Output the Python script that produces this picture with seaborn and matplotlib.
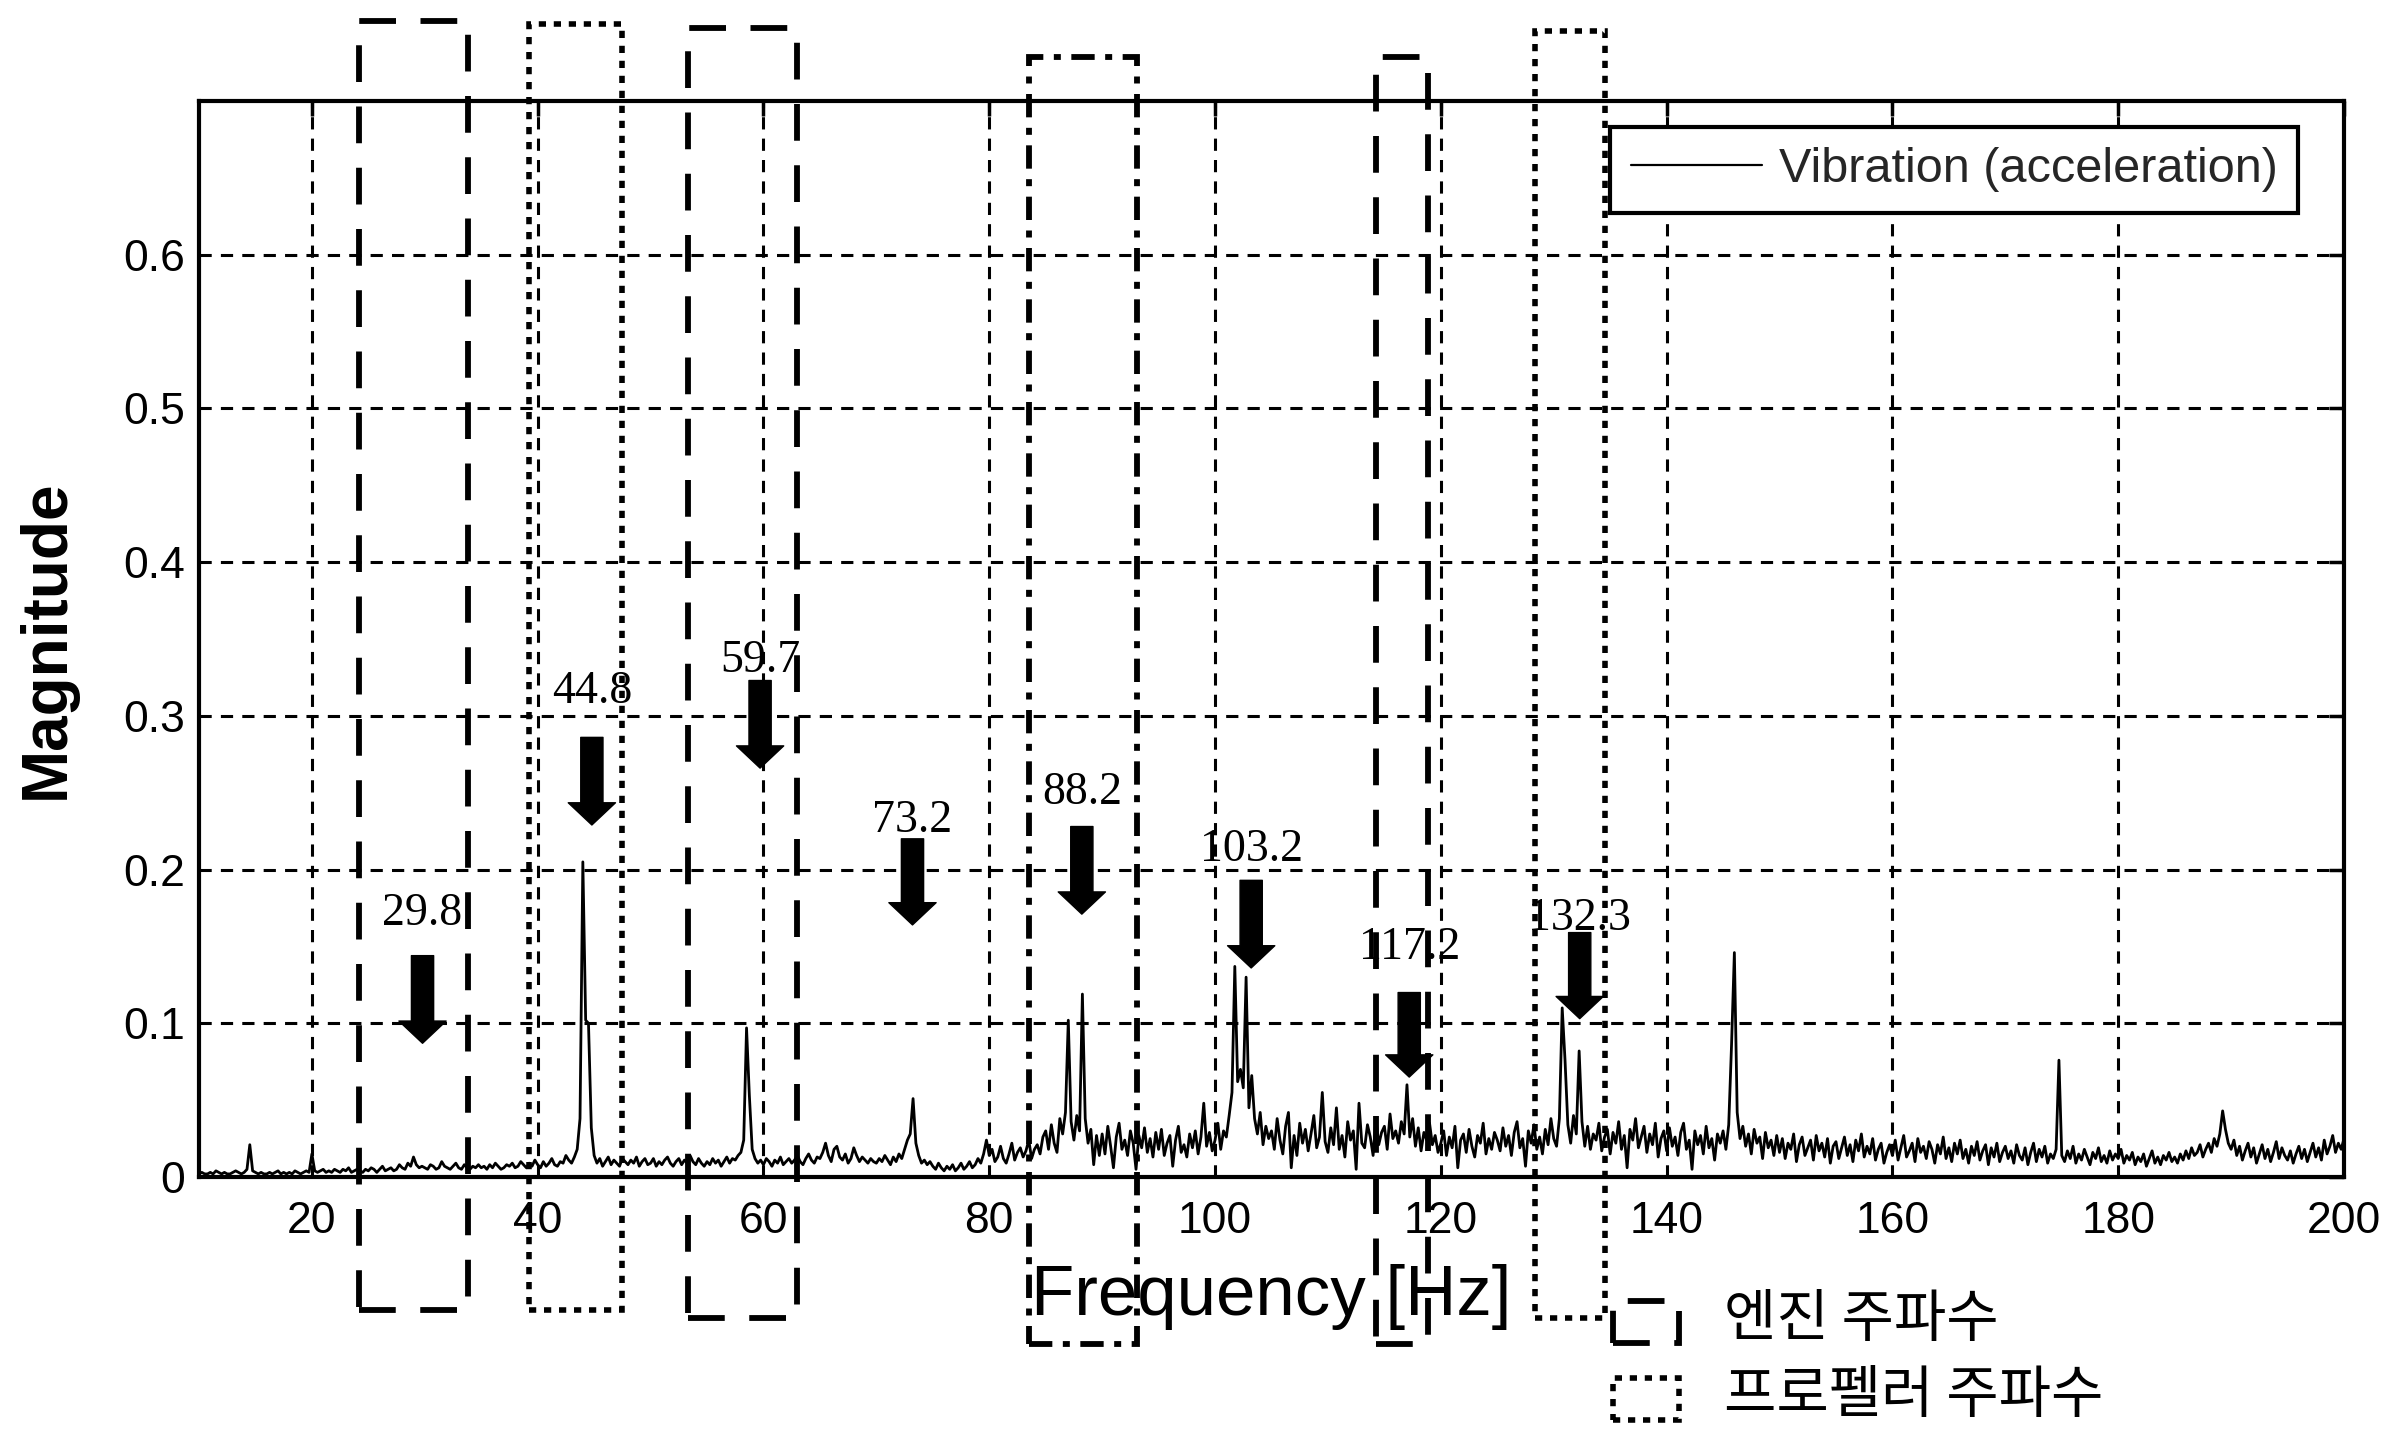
import numpy as np
import pandas as pd
import matplotlib
matplotlib.use("Agg")
import matplotlib.pyplot as plt
import matplotlib.transforms as mtransforms
from matplotlib.patches import Rectangle
import seaborn as sns

# ---------------------------------------------------------------- data
# Vibration spectrum (acceleration magnitude, in units of 1e-3), 0.25 Hz bins from 10 Hz
freq_start = 10.0
freq_step = 0.25
mag_milli = [
    2, 3, 2, 2, 3, 2, 4, 3, 2, 3, 2, 2, 3, 4, 3, 2, 3, 5, 21, 4,            # 10-15
    3, 2, 3, 2, 2, 3, 2, 3, 4, 2, 3, 2, 3, 2, 4, 3, 2, 3, 4, 3,             # 15-20
    15, 4, 3, 4, 5, 3, 4, 3, 5, 4, 3, 5, 4, 6, 3, 4, 5, 4, 3, 5,            # 20-25
    4, 6, 5, 3, 5, 7, 4, 5, 6, 4, 5, 8, 6, 5, 9, 7, 13, 8, 6, 7,            # 25-30
    6, 5, 8, 7, 5, 6, 10, 7, 6, 5, 7, 9, 6, 5, 8, 6, 5, 7, 6, 8,            # 30-35
    6, 7, 5, 8, 6, 9, 7, 5, 6, 8, 7, 9, 6, 7, 10, 8, 6, 9, 7, 11,           # 35-40
    8, 6, 10, 7, 9, 12, 8, 7, 10, 9, 14, 11, 9, 13, 18, 38, 205, 102, 100, 32,  # 40-45
    14, 9, 12, 7, 10, 13, 8, 11, 9, 7, 12, 10, 8, 11, 9, 13, 7, 10, 12, 8,  # 45-50
    9, 12, 7, 10, 8, 11, 13, 9, 7, 10, 12, 8, 11, 9, 14, 10, 8, 12, 9, 7,   # 50-55
    10, 8, 12, 9, 11, 7, 10, 13, 9, 12, 11, 14, 16, 24, 97, 53, 18, 12, 9, 11,  # 55-60
    8, 12, 10, 7, 11, 9, 13, 8, 10, 12, 9, 11, 14, 10, 8, 12, 15, 11, 9, 13,    # 60-65
    12, 16, 22, 14, 10, 18, 20, 13, 11, 15, 9, 12, 19, 14, 10, 13, 11, 9, 12, 10,  # 65-70
    9, 12, 10, 14, 11, 8, 13, 10, 15, 12, 18, 24, 28, 51, 22, 14, 9, 11, 8, 10,    # 70-75
    7, 5, 9, 6, 4, 7, 5, 8, 4, 6, 9, 5, 7, 10, 6, 8, 12, 9, 15, 24,                # 75-80
    14, 18, 10, 13, 20, 12, 9, 15, 22, 11, 16, 19, 13, 17, 24, 12, 18, 21, 15, 26,  # 80-85
    30, 18, 34, 22, 16, 38, 28, 42, 102, 36, 24, 40, 30, 119, 38, 22, 31, 8, 27, 14,  # 85-90
    28, 15, 33, 20, 6, 26, 35, 18, 24, 14, 30, 22, 5, 27, 19, 32, 16, 25, 13, 29,    # 90-95
    18, 31, 14, 22, 27, 7, 24, 33, 16, 21, 13, 28, 19, 30, 15, 26, 48, 20, 29, 17,   # 95-100
    24, 35, 18, 30, 26, 40, 55, 137, 62, 70, 58, 130, 45, 66, 38, 28, 42, 21, 33, 25,  # 100-105
    30, 18, 38, 24, 15, 33, 42, 6, 27, 14, 35, 22, 31, 17, 28, 40, 19, 26, 55, 23,  # 105-110
    16, 32, 21, 45, 18, 27, 13, 36, 24, 30, 5, 48, 22, 19, 34, 26, 14, 38, 21, 29,  # 110-115
    33, 18, 41, 25, 30, 22, 36, 28, 60, 26, 38, 20, 32, 17, 29, 24, 35, 21, 27, 16,  # 115-120
    22, 30, 14, 26, 19, 33, 6, 24, 28, 16, 31, 20, 13, 27, 22, 35, 15, 25, 18, 29,   # 120-125
    24, 17, 32, 20, 27, 14, 29, 36, 19, 25, 7, 30, 22, 34, 18, 26, 15, 31, 21, 38,   # 125-130
    25, 20, 38, 110, 76, 34, 22, 40, 28, 82, 36, 20, 33, 18, 28, 24, 35, 17, 26, 31,  # 130-135
    15, 29, 22, 36, 18, 27, 6, 31, 24, 38, 19, 26, 33, 16, 28, 21, 35, 13, 25, 30,   # 135-140
    17, 32, 20, 26, 14, 29, 35, 18, 24, 5, 30, 21, 27, 15, 33, 19, 25, 11, 28, 22,   # 140-145
    30, 18, 34, 86, 146, 42, 25, 33, 20, 28, 15, 31, 22, 26, 12, 29, 19, 24, 14, 27,  # 145-150
    16, 25, 12, 22, 18, 28, 10, 21, 26, 14, 19, 24, 11, 27, 17, 22, 13, 25, 9, 20,   # 150-155
    23, 12, 19, 26, 14, 21, 10, 24, 17, 28, 13, 20, 15, 25, 11, 18, 22, 9, 16, 21,   # 155-160
    14, 24, 11, 19, 27, 13, 17, 22, 10, 25, 16, 20, 12, 23, 18, 9, 21, 15, 26, 12,   # 160-165
    19, 10, 22, 15, 24, 12, 18, 9, 20, 14, 23, 11, 17, 21, 8, 19, 13, 22, 10, 16,    # 165-170
    20, 12, 17, 9, 21, 14, 11, 19, 8, 16, 22, 10, 18, 13, 20, 9, 15, 12, 18, 76,     # 170-175
    14, 10, 17, 12, 20, 9, 15, 11, 18, 13, 8, 16, 12, 19, 10, 14, 9, 17, 11, 15,     # 175-180
    12, 18, 9, 14, 11, 16, 8, 13, 10, 15, 7, 12, 17, 9, 13, 8, 14, 11, 16, 10,       # 180-185
    13, 9, 15, 11, 17, 12, 19, 14, 16, 21, 13, 18, 22, 16, 25, 20, 28, 43, 31, 22,   # 185-190
    18, 24, 14, 20, 11, 17, 22, 13, 19, 9, 15, 21, 12, 18, 10, 16, 23, 12, 19, 14,   # 190-195
    11, 17, 9, 15, 20, 12, 18, 10, 16, 22, 13, 19, 11, 24, 15, 20, 27, 16, 22, 18,   # 195-200
    25,
]

x_ticks = [20, 40, 60, 80, 100, 120, 140, 160, 180, 200]
x_tick_labels = ["20", "40", "60", "80", "100", "120", "140", "160", "180", "200"]
y_ticks = [0.0, 0.1, 0.2, 0.3, 0.4, 0.5, 0.6]
y_tick_labels = ["0", "0.1", "0.2", "0.3", "0.4", "0.5", "0.6"]

# Marked peak frequencies [Hz] and their arrows (tip / tail heights)
peak_labels = ["29.8", "44.8", "59.7", "73.2", "88.2", "103.2", "117.2", "132.3"]
peak_freqs = [29.8, 44.8, 59.7, 73.2, 88.2, 103.2, 117.2, 132.3]
arrow_tip = [0.087, 0.229, 0.266, 0.164, 0.171, 0.136, 0.065, 0.103]
arrow_tail = [0.144, 0.286, 0.323, 0.220, 0.228, 0.193, 0.120, 0.159]
label_y = [0.171, 0.316, 0.336, 0.232, 0.250, 0.213, 0.149, 0.168]

# Frequency bands: engine (dashed), propeller (dotted), both (dash-dot)
engine_bands = [(24.2, 33.8, -0.124, 1.074), (53.3, 63.0, -0.131, 1.068), (114.3, 118.9, -0.155, 1.041)]
propeller_bands = [(39.2, 47.5, -0.124, 1.072), (128.3, 134.5, -0.131, 1.065)]
shared_bands = [(83.5, 93.1, -0.155, 1.041)]

series_label = "Vibration (acceleration)"
engine_text = "엔진 주파수"
propeller_text = "프로펠러 주파수"

# ---------------------------------------------------------------- frame
freq = freq_start + freq_step * np.arange(len(mag_milli))
df = pd.DataFrame({"Frequency": freq, "Magnitude": np.array(mag_milli) / 1000.0})

sns.set_theme(style="white")
plt.rcParams["font.family"] = ["Liberation Sans", "DejaVu Sans"]

W, H = 2397, 1433
fig = plt.figure(figsize=(W / 100, H / 100), dpi=100)
fig.patch.set_facecolor("white")
ax = fig.add_axes([199 / W, 1 - 1177 / H, 2145 / W, 1076 / H])
ax.set_facecolor("white")

sns.lineplot(data=df, x="Frequency", y="Magnitude", ax=ax, color="black",
             linewidth=2.0, estimator=None, sort=False, label=series_label, zorder=3)

ax.set_xlim(10, 200)
ax.set_ylim(0, 0.7)
ax.set_xticks(x_ticks)
ax.set_xticklabels(x_tick_labels)
ax.set_yticks(y_ticks)
ax.set_yticklabels(y_tick_labels)

ax.grid(True, color="black", linestyle=(0, (4.0, 3.0)), linewidth=2.2, zorder=1)
for sp in ax.spines.values():
    sp.set_visible(True)
    sp.set_color("black")
    sp.set_linewidth(3.0)
ax.tick_params(direction="in", length=11, width=2.5, top=True, right=True,
               labelsize=32, colors="black")
ax.tick_params(axis="y", pad=10)
ax.tick_params(axis="x", pad=17)

ax.set_xlabel("Frequency [Hz]", fontsize=51, color="black", va="center")
ax.xaxis.set_label_coords(0.5, (1177 - 1297) / 1076)
ax.set_ylabel("Magnitude", fontsize=46, fontweight="bold", color="black", va="center")
ax.yaxis.set_label_coords((47 - 199) / 2145, 0.5)

leg = ax.legend(loc="upper right", bbox_to_anchor=(0.9786, 0.9758), borderaxespad=0,
                fontsize=35, handlelength=2.7, handletextpad=0.35, borderpad=0.42,
                fancybox=False, framealpha=1, edgecolor="black")
leg.get_frame().set_linewidth(3.0)
for h in leg.get_lines():
    h.set_linewidth(1.6)

# ---------------------------------------------------------------- arrows & labels
for f, lab, tip, tail, ly in zip(peak_freqs, peak_labels, arrow_tip, arrow_tail, label_y):
    ax.annotate("", xy=(f, tip), xytext=(f, tail),
                arrowprops=dict(arrowstyle="simple,head_length=16,head_width=34,tail_width=16",
                                mutation_scale=1, fc="black", ec="black",
                                shrinkA=0, shrinkB=0), zorder=5)
    ax.text(f, ly, lab, ha="center", va="center", fontsize=33, color="black",
            family=["Liberation Serif", "DejaVu Serif"], zorder=5)

# ---------------------------------------------------------------- band boxes
blend = mtransforms.blended_transform_factory(ax.transData, ax.transAxes)
dashed = dict(linestyle=(0, (6.3, 4.2)), linewidth=4.2)
dotted = dict(linestyle=(0, (1.3, 1.4)), linewidth=4.0)
dashdot = dict(linestyle=(0, (4.0, 1.8, 1.2, 1.8)), linewidth=4.2)
for bands, style in ((engine_bands, dashed), (propeller_bands, dotted), (shared_bands, dashdot)):
    for x0, x1, y0, y1 in bands:
        ax.add_patch(Rectangle((x0, y0), x1 - x0, y1 - y0, transform=blend, fill=False,
                               edgecolor="black", clip_on=False, zorder=6, **style))

# ---------------------------------------------------------------- band legend
for (top, bot, style, text, ty) in ((1301, 1343, dashed, engine_text, 1320),
                                    (1378, 1420, dotted, propeller_text, 1396)):
    fig.patches.append(Rectangle((1613 / W, 1 - bot / H), 66 / W, (bot - top) / H,
                                 transform=fig.transFigure, fill=False, edgecolor="black",
                                 **style))
    fig.text(1724 / W, 1 - ty / H, text, ha="left", va="center", fontsize=41,
             color="black", family=["Noto Sans CJK KR", "DejaVu Sans"])

fig.savefig("out.png", dpi=100, facecolor="white")
